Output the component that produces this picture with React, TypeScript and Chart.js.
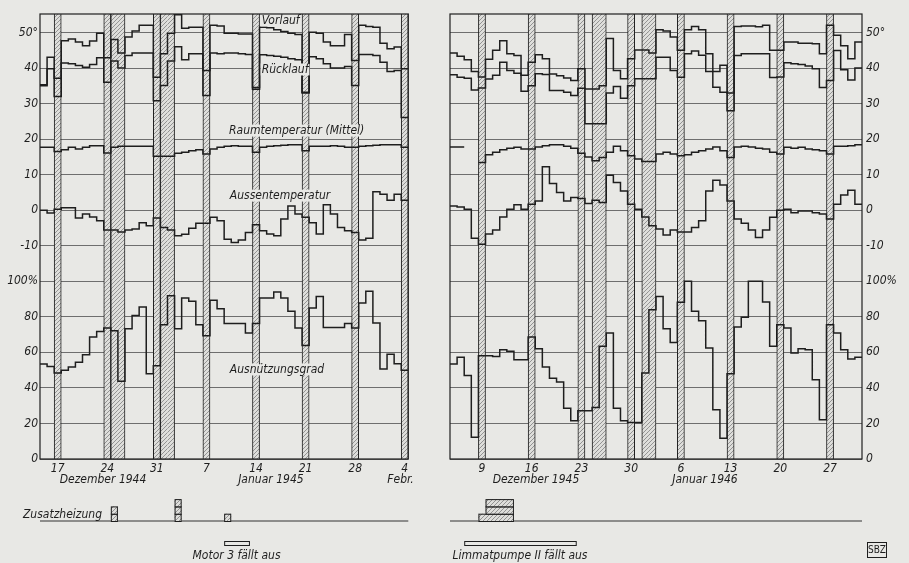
import React, { useEffect, useRef } from 'react';
import { Chart, registerables } from 'chart.js';

Chart.register(...registerables);

const PAPER = '#e8e8e5';
const INK = '#1e1e1e';
const GRID = '#6e6e6e';
const FONT = "'DejaVu Sans Condensed', 'Liberation Sans Narrow', 'Liberation Sans', sans-serif";

// combined vertical axis: temperature in °C, percent on an aligned second axis (20 % per 10 °C grid step)
const Y_MIN = -70;
const Y_MAX = 55.2;
const TEMP_TICKS = [50, 40, 30, 20, 10, 0, -10];
const PCT_TICKS = [100, 80, 60, 40, 20, 0];

// ---------- Winter 1944/45: one value per day, 15 Dec 1944 – 4 Feb 1945 ----------
const VORLAUF_44 = [35.3, 43, 37.1, 47.7, 48.2, 47.3, 46.3, 47.6, 49.8, 42.9, 48, 44.2, 48.7, 50.4, 52, 52, 37.4, 44, 49.8, 55, 51.2, 51.5, 51.5, 39.3, 52, 51.8, 49.8, 49.8, 49.6, 49.6, 34.5, 51.5, 51.3, 50.8, 50.3, 49.8, 49.4, 33.2, 50.1, 49.8, 47.3, 46.3, 46.3, 49.4, 42.1, 52, 51.7, 51.5, 47, 45.4, 45.9, 39.8];
const RUECKLAUF_44 = [35, 39.8, 32, 41.4, 41.2, 40.7, 40.2, 41, 42.9, 36, 42, 40, 43.5, 44.2, 44.2, 44.2, 30.8, 35.1, 42, 46, 42.3, 44, 44, 32.3, 44.2, 44, 44.2, 44.2, 44, 43.8, 34, 43.7, 43.5, 43.3, 43, 42.6, 42.3, 33, 43.2, 42.6, 41.2, 40, 40, 40.4, 35.1, 43.8, 43.8, 43.5, 41.6, 39, 39.3, 26.1];
const RAUM_44 = [17.7, 17.7, 16.5, 17, 17.7, 17.2, 17.7, 18.1, 18.1, 16.1, 17.7, 18, 18, 18, 18, 18, 15.2, 15.2, 15.2, 16, 16.3, 16.7, 17, 15.8, 17.2, 17.7, 18, 18.1, 18, 18, 16.3, 17.7, 18, 18.1, 18.3, 18.4, 18.4, 16.7, 18, 18, 18, 18.1, 18, 17.7, 17.7, 18, 18.1, 18.3, 18.4, 18.4, 18.4, 17.7];
const AUSSEN_44 = [0, -0.8, 0.3, 0.7, 0.7, -2.2, -1.1, -1.9, -3, -5.6, -5.6, -6.1, -5.6, -5.3, -3.5, -4.4, -2.2, -4.9, -5.6, -7.2, -6.8, -5.1, -3.7, -3.7, -2, -3, -8.2, -9.1, -8.4, -6.3, -4.1, -5.8, -6.7, -7.2, -2.5, 1.2, -1.1, -2, -3.5, -6.7, 1.5, -1.1, -4.9, -5.8, -6.3, -8.4, -7.9, 5.2, 4.5, 2.8, 4.5, 2.8];
const AUSNUETZUNG_44 = [53.4, 52.1, 48.4, 49.9, 51.7, 54.4, 58.7, 68.6, 71.8, 73.7, 72.2, 43.7, 73.3, 80.7, 85.5, 48, 52.5, 75.6, 91.9, 73.3, 90.6, 88.7, 75.6, 69.4, 89.3, 84.6, 76.2, 76.2, 76.2, 70.9, 76.2, 90.6, 90.6, 94, 90.6, 83.1, 73.7, 63.9, 85, 91.5, 74, 74, 74, 76.2, 73.7, 87.8, 94.4, 76.5, 50.6, 59, 53.6, 49.9];
const SUNDAYS_44 = [2, 9, 16, 23, 30, 37, 44, 51];
const SUNDAY_LABELS_44 = ['17', '24', '31', '7', '14', '21', '28', '4'];
const BANDS_44 = [[2, 2], [9, 9], [10, 11], [16, 16], [17, 18], [23, 23], [30, 30], [37, 37], [44, 44], [51, 51]];
const MONTHS_44 = ['Dezember 1944', 'Januar 1945', 'Febr.'];
const MONTH_POS_44 = [8.9, 32.6, 50.9];
const ZUSATZ_DAYS_44 = [10, 19, 26];
const ZUSATZ_UNITS_44 = [2, 3, 1];
const OUTAGE_LABEL_44 = 'Motor 3 fällt aus';
const OUTAGE_SPAN_44 = [26, 29.5];

// ---------- Winter 1945/46: one value per day, 5 Dec 1945 – 31 Jan 1946 ----------
const VORLAUF_45 = [44.2, 43.3, 42.3, 39, 37.5, 42.5, 45, 47.7, 44, 43.5, 38, 41.6, 43.7, 42.6, 38.3, 37.8, 37.2, 36.5, 39.8, 34.1, 34.1, 35, 48.3, 39.3, 37, 42.6, 45.1, 45.1, 44.2, 50.8, 50.4, 48.7, 45, 50.8, 51.7, 50.8, 44, 39, 40.8, 33, 51.7, 51.8, 51.8, 51.6, 52, 45, 45, 47.3, 47.3, 47, 47, 46.8, 44, 52, 49.2, 46.3, 42.6, 47.3];
const RUECKLAUF_45 = [38.1, 37.4, 37.1, 33.8, 34.4, 36.9, 38, 41.6, 39.3, 38.5, 33.5, 35, 38.4, 38.2, 33.7, 33.7, 33.2, 32.3, 34.3, 24.3, 24.3, 24.3, 33, 34.8, 31.5, 35, 37, 37, 37, 43, 43, 39.3, 37.4, 44, 44.8, 43.6, 39, 34.6, 33.2, 28, 43.5, 44, 44, 44, 44, 37.3, 37.5, 41.5, 41.2, 41, 40.6, 39.8, 34.5, 36.5, 44.9, 39.5, 36.6, 40];
const RAUM_45 = [17.8, 17.8, 17.8, null, 13.4, 15.6, 16.3, 17, 17.4, 17.7, 17.2, 17.2, 17.8, 18.1, 18.4, 18.4, 18, 17.4, 16, 15, 13.9, 14.8, 16.3, 18, 16.7, 15.3, 14.4, 13.7, 13.7, 15.8, 16.3, 15.8, 15.3, 15.6, 16.3, 16.7, 17.2, 17.8, 16.7, 14.8, 17.8, 18, 17.8, 17.4, 17.2, 16.3, 15.8, 17.7, 17.4, 17.7, 17.2, 17, 16.7, 15.8, 18, 18, 18.1, 18.4];
const AUSSEN_45 = [1.2, 0.9, 0.3, -7.9, -9.6, -6.7, -5.6, -1.9, 0.3, 1.5, 0.3, 1.7, 2.6, 12.2, 7.5, 5, 2.6, 3.6, 3.3, 1.9, 2.8, 2.2, 9.8, 7.8, 5.4, 1.7, 0.3, -1.9, -4.4, -5.3, -7, -5.6, -6.1, -6.1, -4.9, -3, 5.4, 8.4, 7.1, 2.6, -2.5, -3.7, -5.6, -7.7, -5.6, -2, 0, 0.3, -0.7, -0.2, -0.2, -0.7, -1.1, -2.5, 1.7, 4.3, 5.6, 1.7];
const AUSNUETZUNG_45 = [53.4, 57.2, 47, 12.3, 58.1, 58.1, 57.7, 61.5, 60.6, 55.9, 55.9, 68.6, 62, 51.7, 45.5, 43.3, 28.6, 21.5, 27.1, 27.1, 29, 63.4, 70.9, 28.6, 21.5, 20.6, 20.6, 48.4, 84, 91.5, 73.3, 65.6, 88.2, 100, 83.1, 77.8, 62.4, 27.7, 11.7, 48, 74.3, 79.7, 100, 100, 88.4, 63.4, 75.6, 73.7, 59.6, 62, 61.5, 44.6, 22.1, 75.6, 70.9, 61.5, 56.2, 57.2];
const SUNDAYS_45 = [4, 11, 18, 25, 32, 39, 46, 53];
const SUNDAY_LABELS_45 = ['9', '16', '23', '30', '6', '13', '20', '27'];
const BANDS_45 = [[4, 4], [11, 11], [18, 18], [20, 21], [25, 25], [27, 28], [32, 32], [39, 39], [46, 46], [53, 53]];
const MONTHS_45 = ['Dezember 1945', 'Januar 1946'];
const MONTH_POS_45 = [12.1, 35.9];
const ZUSATZ_DAYS_45 = [4, 5, 6, 7, 8];
const ZUSATZ_UNITS_45 = [1, 3, 3, 3, 3];
const OUTAGE_LABEL_45 = 'Limmatpumpe II fällt aus';
const OUTAGE_SPAN_45 = [2, 17.7];

// series captions (left panel), anchored in data coordinates
const CAPTIONS_44 = [
  { text: 'Vorlauf', day: 31.3, value: 53.4, axis: 'y' },
  { text: 'Rücklauf', day: 31.3, value: 39.6, axis: 'y' },
  { text: 'Raumtemperatur (Mittel)', day: 26.7, value: 22.4, axis: 'y' },
  { text: 'Aussentemperatur', day: 26.8, value: 4.1, axis: 'y' },
  { text: 'Ausnützungsgrad', day: 26.8, value: 50.4, axis: 'yp' },
];

const Y_TICKS = [
  ...TEMP_TICKS.map((t) => ({ v: t, label: t === 50 ? '50°' : String(t) })),
  ...PCT_TICKS.map((p) => ({ v: Y_MIN + p / 2, label: p === 100 ? '100%' : String(p) })),
];

function makeHatch(): CanvasPattern | string {
  const c = document.createElement('canvas');
  c.width = 4;
  c.height = 4;
  const g = c.getContext('2d');
  if (!g) return '#bbb';
  g.fillStyle = '#dededb';
  g.fillRect(0, 0, 4, 4);
  g.strokeStyle = '#8a8a8a';
  g.lineWidth = 0.9;
  g.beginPath();
  g.moveTo(0, 4); g.lineTo(4, 0);
  g.moveTo(-1, 1); g.lineTo(1, -1);
  g.moveTo(3, 5); g.lineTo(5, 3);
  g.stroke();
  const p = g.createPattern(c, 'repeat');
  return p || '#bbb';
}

function steps(vals: (number | null)[]) {
  const pts = vals.map((v, i) => ({ x: i, y: v }));
  pts.push({ x: vals.length, y: vals[vals.length - 1] });
  return pts;
}

type PanelCfg = {
  left: number; width: number; side: 'left' | 'right'; axisWidth: number; padding: any;
  vorlauf: number[]; ruecklauf: number[]; raum: (number | null)[]; aussen: number[]; ausn: number[];
  sundays: number[]; sundayLabels: string[]; bands: number[][];
  months: string[]; monthPos: number[];
  zDays: number[]; zUnits: number[]; outageLabel: string; outageSpan: number[];
  captions: any[]; zusatzLabel: boolean; sbz: boolean;
};

function buildChart(canvas: HTMLCanvasElement, cfg: PanelCfg) {
  const hatch = makeHatch();
  const n = cfg.vorlauf.length;
  const bandDays: { d: number; start: boolean; end: boolean }[] = [];
  cfg.bands.forEach(([a, b]) => {
    for (let d = a; d <= b; d++) bandDays.push({ d, start: d === a, end: d === b });
  });
  const italic = (size: number) => ({ family: FONT, size, style: 'italic' as const });

  // each daily value is held from the start of its day to the start of the next one
  const line = (vals: (number | null)[], axis = 'y') => ({
    type: 'line' as const,
    data: steps(vals),
    yAxisID: axis,
    borderColor: INK,
    borderWidth: 1.5,
    pointRadius: 0,
    stepped: 'before' as const,
    fill: false,
    spanGaps: false,
    order: 0,
  });

  const decor = {
    id: 'decor',
    afterDatasetsDraw(chart: any) {
      const { ctx, scales } = chart;
      ctx.save();
      ctx.font = `italic 12px ${FONT}`;
      ctx.textBaseline = 'middle';
      ctx.textAlign = 'left';
      cfg.captions.forEach((c) => {
        const px = scales.x.getPixelForValue(c.day);
        const py = scales[c.axis].getPixelForValue(c.value);
        const w = ctx.measureText(c.text).width;
        ctx.fillStyle = PAPER;
        ctx.fillRect(px - 1, py - 6, w + 2, 12);
        ctx.fillStyle = INK;
        ctx.fillText(c.text, px, py);
      });
      ctx.restore();
    },
    afterDraw(chart: any) {
      const { ctx, chartArea: a, scales } = chart;
      const xs = scales.x;
      ctx.save();
      // frame
      ctx.strokeStyle = INK;
      ctx.lineWidth = 1.2;
      ctx.strokeRect(a.left, a.top, a.right - a.left, a.bottom - a.top);
      // month labels
      ctx.fillStyle = INK;
      ctx.font = `italic 12px ${FONT}`;
      ctx.textAlign = 'center';
      ctx.textBaseline = 'middle';
      cfg.months.forEach((m, i) => ctx.fillText(m, xs.getPixelForValue(cfg.monthPos[i]), a.bottom + 21));
      // Zusatzheizung strip
      const base = a.bottom + 62;
      ctx.strokeStyle = '#333';
      ctx.lineWidth = 1;
      ctx.beginPath();
      ctx.moveTo(a.left, base);
      ctx.lineTo(a.right, base);
      ctx.stroke();
      if (cfg.zusatzLabel) {
        ctx.textAlign = 'right';
        ctx.fillText('Zusatzheizung', a.left + 62, base - 6);
      }
      const unitH = 7.3;
      const maxU = Math.max(...cfg.zUnits);
      for (let lvl = 1; lvl <= maxU; lvl++) {
        let i = 0;
        while (i < cfg.zDays.length) {
          if (cfg.zUnits[i] < lvl) { i++; continue; }
          let j = i;
          while (j + 1 < cfg.zDays.length && cfg.zUnits[j + 1] >= lvl && cfg.zDays[j + 1] === cfg.zDays[j] + 1) j++;
          const x0 = xs.getPixelForValue(cfg.zDays[i]);
          const x1 = xs.getPixelForValue(cfg.zDays[j] + 1);
          const y0 = base - lvl * unitH;
          ctx.fillStyle = hatch as any;
          ctx.fillRect(x0, y0, x1 - x0, unitH);
          ctx.strokeStyle = INK;
          ctx.strokeRect(x0 + 0.5, y0 + 0.5, x1 - x0 - 1, unitH);
          i = j + 1;
        }
      }
      // outage bar
      const o0 = xs.getPixelForValue(cfg.outageSpan[0]);
      const o1 = xs.getPixelForValue(cfg.outageSpan[1]);
      ctx.strokeStyle = INK;
      ctx.lineWidth = 1;
      ctx.strokeRect(o0 + 0.5, base + 20.5, o1 - o0, 4);
      ctx.fillStyle = INK;
      ctx.textAlign = 'center';
      ctx.fillText(cfg.outageLabel, (o0 + o1) / 2, base + 35);
      if (cfg.sbz) {
        ctx.strokeRect(427.5, 542.5, 19, 15);
        ctx.font = `10px ${FONT}`;
        ctx.fillText('SBZ', 437, 550.5);
      }
      ctx.restore();
    },
  };

  return new Chart(canvas, {
    type: 'line',
    data: {
      datasets: [
        line(cfg.vorlauf),
        line(cfg.ruecklauf),
        line(cfg.raum),
        line(cfg.aussen),
        line(cfg.ausn, 'yp'),
        {
          type: 'bar' as const,
          data: bandDays.map((b) => ({ x: b.d + 0.5, y: [Y_MIN, Y_MAX] })),
          yAxisID: 'y',
          backgroundColor: hatch as any,
          borderColor: INK,
          borderSkipped: false,
          borderWidth: (c: any) => {
            const b = bandDays[c.dataIndex];
            if (!b) return 0;
            return { left: b.start ? 1 : 0, right: b.end ? 1 : 0, top: 0, bottom: 0 };
          },
          barPercentage: 1,
          categoryPercentage: 1,
          order: 5,
        } as any,
      ],
    },
    options: {
      responsive: false,
      maintainAspectRatio: false,
      animation: false,
      devicePixelRatio: 1,
      layout: { padding: cfg.padding },
      plugins: { legend: { display: false }, tooltip: { enabled: false } },
      scales: {
        x: {
          type: 'linear',
          min: 0,
          max: n,
          offset: false,
          grid: { display: false, drawTicks: false, offset: false },
          border: { display: false },
          afterBuildTicks: (s: any) => { s.ticks = cfg.sundays.map((d) => ({ value: d + 0.5 })); },
          afterFit: (s: any) => { s.height = 104; },
          ticks: {
            autoSkip: false,
            maxRotation: 0,
            padding: 3,
            color: INK,
            font: italic(12),
            callback: (_v: any, i: number) => cfg.sundayLabels[i],
          },
        },
        y: {
          type: 'linear',
          position: cfg.side,
          min: Y_MIN,
          max: Y_MAX,
          grid: { color: GRID, lineWidth: 1, drawTicks: false },
          border: { display: false },
          afterBuildTicks: (s: any) => { s.ticks = Y_TICKS.map((t) => ({ value: t.v })); },
          afterFit: (s: any) => { s.width = cfg.axisWidth; },
          ticks: {
            padding: cfg.side === 'left' ? 2 : 4,
            color: INK,
            font: italic(12),
            callback: (v: any) => {
              const t = Y_TICKS.find((k) => Math.abs(k.v - Number(v)) < 1e-6);
              return t ? t.label : '';
            },
          },
        },
        yp: {
          type: 'linear',
          display: false,
          min: 0,
          max: (Y_MAX - Y_MIN) * 2,
        },
      },
    } as any,
    plugins: [decor],
  });
}

function Panel({ cfg }: { cfg: PanelCfg }) {
  const ref = useRef<HTMLCanvasElement>(null);
  useEffect(() => {
    if (!ref.current) return;
    const chart = buildChart(ref.current, cfg);
    return () => chart.destroy();
  }, []);
  return (
    <canvas
      ref={ref}
      width={cfg.width}
      height={563}
      style={{ position: 'absolute', left: cfg.left, top: 0, width: cfg.width, height: 563 }}
    />
  );
}

const LEFT_PANEL: PanelCfg = {
  left: 0, width: 440, side: 'left', axisWidth: 40,
  padding: { left: 0, top: 14, right: 31.7, bottom: 0 },
  vorlauf: VORLAUF_44, ruecklauf: RUECKLAUF_44, raum: RAUM_44, aussen: AUSSEN_44, ausn: AUSNUETZUNG_44,
  sundays: SUNDAYS_44, sundayLabels: SUNDAY_LABELS_44, bands: BANDS_44,
  months: MONTHS_44, monthPos: MONTH_POS_44,
  zDays: ZUSATZ_DAYS_44, zUnits: ZUSATZ_UNITS_44, outageLabel: OUTAGE_LABEL_44, outageSpan: OUTAGE_SPAN_44,
  captions: CAPTIONS_44, zusatzLabel: true, sbz: false,
};

const RIGHT_PANEL: PanelCfg = {
  left: 440, width: 469, side: 'right', axisWidth: 47,
  padding: { left: 10, top: 14, right: 0, bottom: 0 },
  vorlauf: VORLAUF_45, ruecklauf: RUECKLAUF_45, raum: RAUM_45, aussen: AUSSEN_45, ausn: AUSNUETZUNG_45,
  sundays: SUNDAYS_45, sundayLabels: SUNDAY_LABELS_45, bands: BANDS_45,
  months: MONTHS_45, monthPos: MONTH_POS_45,
  zDays: ZUSATZ_DAYS_45, zUnits: ZUSATZ_UNITS_45, outageLabel: OUTAGE_LABEL_45, outageSpan: OUTAGE_SPAN_45,
  captions: [], zusatzLabel: false, sbz: true,
};

export default function App() {
  return (
    <div style={{ position: 'fixed', left: 0, top: 0, width: 909, height: 563, background: PAPER, overflow: 'hidden' }}>
      <Panel cfg={LEFT_PANEL} />
      <Panel cfg={RIGHT_PANEL} />
    </div>
  );
}
